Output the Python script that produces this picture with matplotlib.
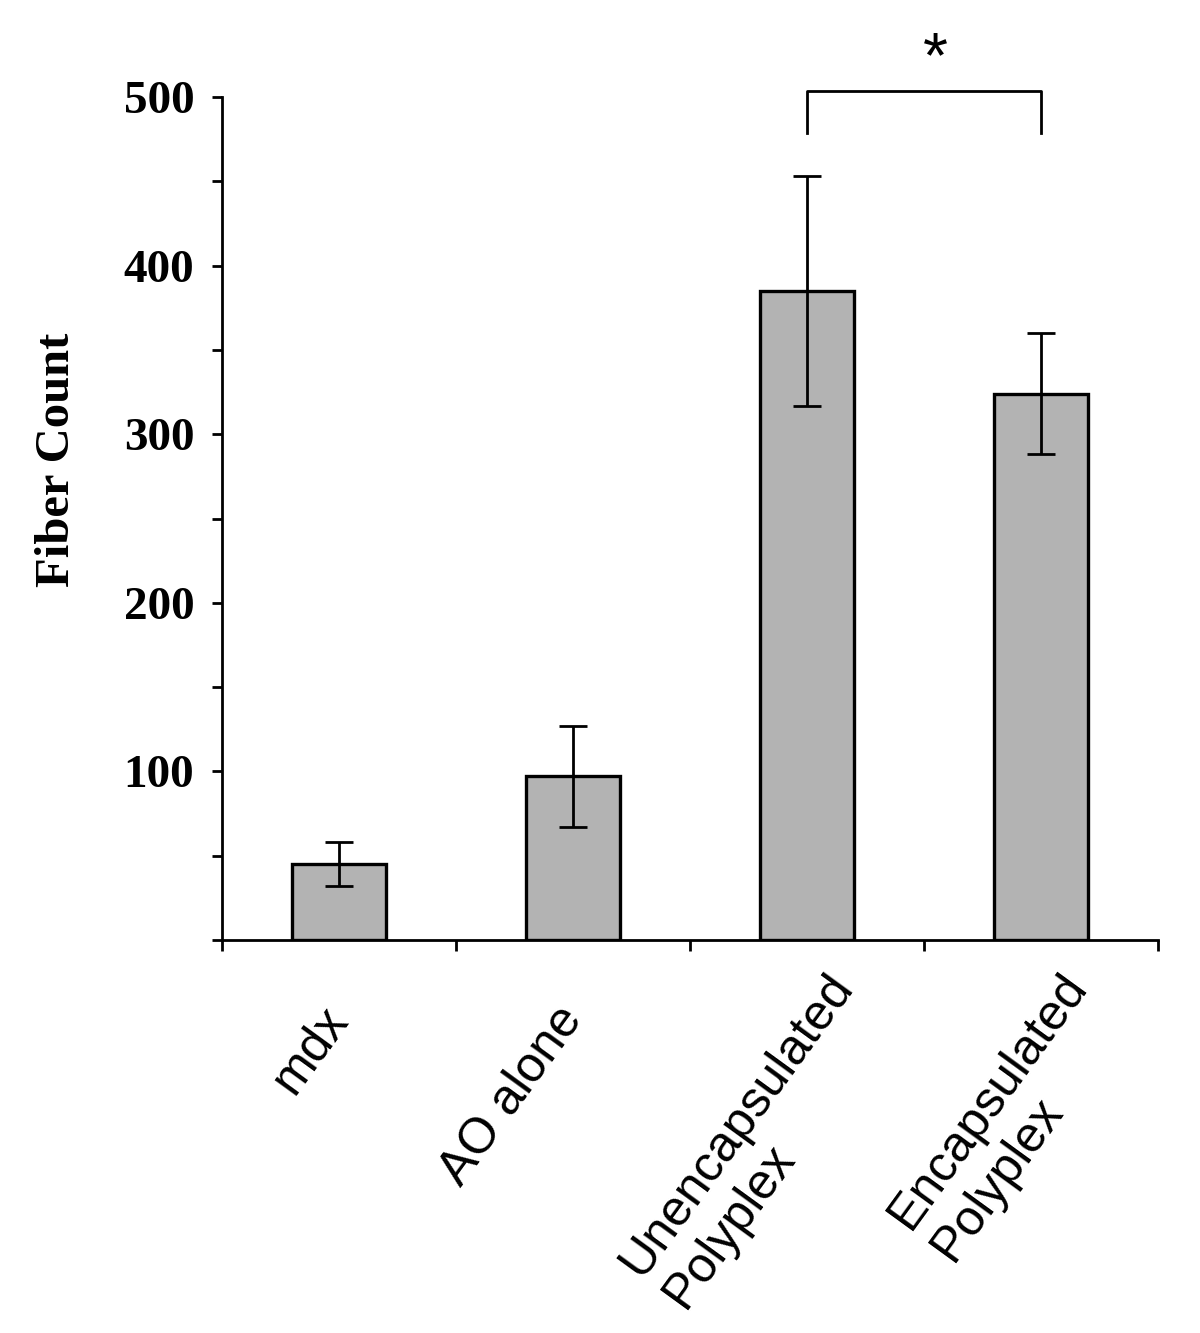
import matplotlib
matplotlib.use("Agg")
import matplotlib.pyplot as plt
import matplotlib.transforms as mtransforms
import numpy as np

categories = ["mdx", "AO alone", "Unencapsulated\nPolyplex", "Encapsulated\nPolyplex"]
values = [45, 97, 385, 324]
errors = [13, 30, 68, 36]
y_ticks = [0, 100, 200, 300, 400, 500]
y_tick_labels = ["", "100", "200", "300", "400", "500"]
sig_pair = (2, 3)
sig_label = "*"

fig = plt.figure(figsize=(12, 13.33), dpi=100)
ax = fig.add_axes([222/1200, 1-940/1333, (1158-222)/1200, (940-97)/1333])

x = np.arange(len(categories))
ax.bar(x, values, width=0.4, color="#b3b3b3", edgecolor="black", linewidth=2.4, zorder=2)
ax.errorbar(x, values, yerr=errors, fmt="none", ecolor="black", elinewidth=2.0,
            capsize=10, capthick=2.0, zorder=3)

ax.set_xlim(-0.5, len(categories) - 0.5)
ax.set_ylim(0, 500)

for s in ["top", "right"]:
    ax.spines[s].set_visible(False)
for s in ["left", "bottom"]:
    ax.spines[s].set_linewidth(2.0)

ax.set_yticks(y_ticks)
ax.set_yticklabels(y_tick_labels, fontfamily="Liberation Serif", fontweight="bold", fontsize=34)
ax.set_yticks(np.arange(50, 500, 100), minor=True)
ax.tick_params(axis="y", which="both", direction="out", length=7, width=2.0, pad=13)

ax.set_xticks(np.arange(-0.5, len(categories), 1.0))
ax.set_xticklabels([])
ax.tick_params(axis="x", which="both", direction="out", length=8, width=2.0)

# category labels
for i, lab in enumerate(categories):
    nlines = lab.count("\n") + 1
    dx = 0.58 * (nlines - 1)
    dy = -0.72 + 0.18 * (nlines - 1)
    tr = ax.get_xaxis_transform() + mtransforms.ScaledTranslation(dx, dy, fig.dpi_scale_trans)
    ax.text(i, 0, lab, transform=tr, rotation=54, rotation_mode="anchor",
            ha="right", va="center", multialignment="left",
            fontfamily="Liberation Sans", fontsize=36, linespacing=1.2)

# y label
fig.text(57/1200, 1-460/1333, "Fiber Count", rotation=90, ha="center", va="center",
         fontfamily="Liberation Serif", fontweight="bold", fontsize=35)

# significance bracket
a, b = sig_pair
top = 503.5
ax.plot([a, a, b, b], [478.5, top, top, 478.5], color="black", lw=2.0, clip_on=False)
ax.text((a + b) / 2 + 0.05, 522, sig_label, ha="center", va="center",
        fontfamily="Liberation Sans", fontsize=46, clip_on=False)

fig.savefig("out.png", dpi=100)
